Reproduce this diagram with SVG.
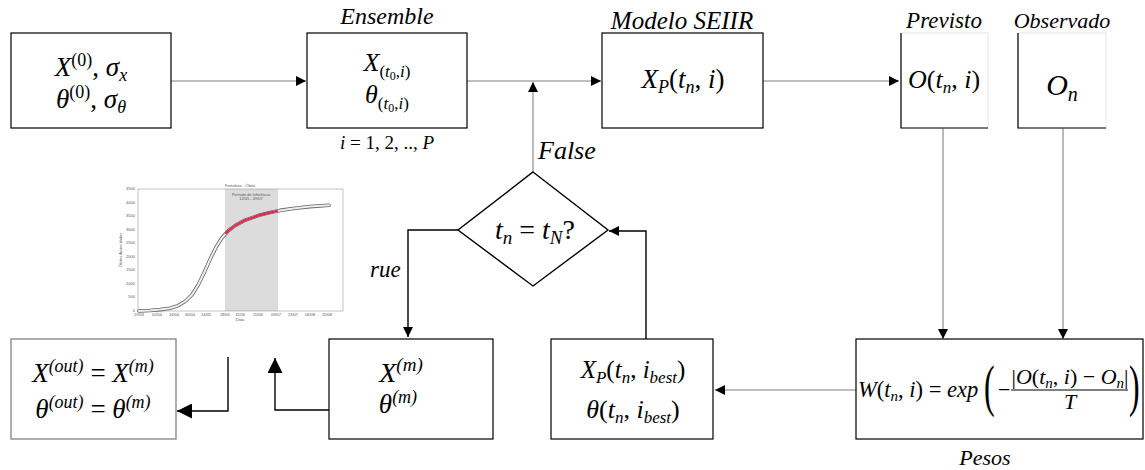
<svg xmlns="http://www.w3.org/2000/svg" width="1145" height="470" viewBox="0 0 1145 470">
<style>
.box{fill:#fff;stroke:#000;stroke-width:1.2}
.m{font-family:"Liberation Serif","DejaVu Serif",serif;fill:#000}
.i{font-style:italic}
.lbl{font-family:"Liberation Serif","DejaVu Serif",serif;font-style:italic;fill:#000}
.g{fill:none;stroke:#aaa;stroke-width:1.6}
.k{fill:none;stroke:#000;stroke-width:1.4}
.t{font-family:"Liberation Sans",Arial,sans-serif;font-size:4px;fill:#555}
</style>
<defs>
<marker id="ah" viewBox="0 0 10 10" markerUnits="userSpaceOnUse" markerWidth="11" markerHeight="10" refX="10" refY="5" orient="auto"><path d="M0,0L10,5L0,10z" fill="#000"/></marker>
<marker id="big" viewBox="0 0 10 10" markerUnits="userSpaceOnUse" markerWidth="15" markerHeight="15" refX="10" refY="5" orient="auto"><path d="M0,0L10,5L0,10z" fill="#000"/></marker>
</defs>
<rect width="1145" height="470" fill="#fff"/>

<g id="connectors">
<path class="g" d="M171,81H306" marker-end="url(#ah)"/>
<path class="g" d="M467,81H601" marker-end="url(#ah)"/>
<path class="g" d="M533,172V82" marker-end="url(#ah)"/>
<path class="g" d="M763,81H899" marker-end="url(#ah)"/>
<path class="g" d="M943,128V339" marker-end="url(#ah)"/>
<path class="g" d="M1063,128V339" marker-end="url(#ah)"/>
<path class="g" d="M856,390H715" marker-end="url(#ah)"/>
<path class="k" d="M646,339V231H609" marker-end="url(#ah)"/>
<path class="k" d="M458,230H408V337" marker-end="url(#ah)"/>
<path class="k" d="M329,410H275V358" marker-end="url(#big)"/>
<path class="k" d="M228,357V411H177" marker-end="url(#big)"/>
<text class="lbl" x="538" y="159" style="font-size:26px">False</text>
<text class="lbl" x="370" y="277" style="font-size:23px">rue</text>
</g>

<g id="init">
<rect class="box" x="11" y="33" width="160" height="95"/>
<text class="m" x="91" y="76" text-anchor="middle" style="font-size:27px"><tspan class="i">X</tspan><tspan font-size="18" dy="-10">(0)</tspan><tspan dy="10">, </tspan><tspan class="i">σ</tspan><tspan class="i" font-size="18" dy="5">x</tspan></text>
<text class="m" x="91" y="108" text-anchor="middle" style="font-size:27px"><tspan class="i">θ</tspan><tspan font-size="18" dy="-10">(0)</tspan><tspan dy="10">, </tspan><tspan class="i">σ</tspan><tspan class="i" font-size="18" dy="5">θ</tspan></text>
</g>

<g id="ensemble">
<rect class="box" x="307" y="33" width="160" height="95"/>
<text class="lbl" x="387" y="24" text-anchor="middle" style="font-size:24px">Ensemble</text>
<text class="m" x="387" y="71" text-anchor="middle" style="font-size:26px"><tspan class="i">X</tspan><tspan font-size="17" dy="6">(</tspan><tspan class="i" font-size="17">t</tspan><tspan font-size="12" dy="3">0</tspan><tspan font-size="17" dy="-3">,</tspan><tspan class="i" font-size="17">i</tspan><tspan font-size="17">)</tspan></text>
<text class="m" x="387" y="103" text-anchor="middle" style="font-size:26px"><tspan class="i">θ</tspan><tspan font-size="17" dy="6">(</tspan><tspan class="i" font-size="17">t</tspan><tspan font-size="12" dy="3">0</tspan><tspan font-size="17" dy="-3">,</tspan><tspan class="i" font-size="17">i</tspan><tspan font-size="17">)</tspan></text>
<text class="m" x="387" y="149" text-anchor="middle" style="font-size:19px"><tspan class="i">i</tspan> = 1, 2, .., <tspan class="i">P</tspan></text>
</g>

<g id="modelo">
<rect class="box" x="602" y="33" width="161" height="95"/>
<text class="lbl" x="682" y="29" text-anchor="middle" style="font-size:25px">Modelo SEIIR</text>
<text class="m" x="683" y="88" text-anchor="middle" style="font-size:27px"><tspan class="i">X</tspan><tspan class="i" font-size="18" dy="5">P</tspan><tspan dy="-5">(</tspan><tspan class="i">t</tspan><tspan class="i" font-size="18" dy="5">n</tspan><tspan dy="-5">, </tspan><tspan class="i">i</tspan>)</text>
</g>

<g id="previsto">
<rect x="901" y="33" width="87" height="95" fill="#fff" stroke="#e4e4e4" stroke-width="1"/>
<path d="M901,33V128H988" fill="none" stroke="#000" stroke-width="1.2"/>
<text class="lbl" x="944" y="28" text-anchor="middle" style="font-size:23px">Previsto</text>
<text class="m" x="944" y="88" text-anchor="middle" style="font-size:26px"><tspan class="i">O</tspan>(<tspan class="i">t</tspan><tspan class="i" font-size="17" dy="5">n</tspan><tspan dy="-5">, </tspan><tspan class="i">i</tspan>)</text>
</g>

<g id="observado">
<rect x="1018" y="33" width="88" height="95" fill="#fff" stroke="#e4e4e4" stroke-width="1"/>
<path d="M1018,33V128H1106" fill="none" stroke="#000" stroke-width="1.2"/>
<text class="lbl" x="1062" y="28" text-anchor="middle" style="font-size:22px">Observado</text>
<text class="m" x="1062" y="95" text-anchor="middle" style="font-size:30px"><tspan class="i">O</tspan><tspan class="i" font-size="20" dy="6">n</tspan></text>
</g>

<g id="pesos">
<rect class="box" x="856" y="339" width="287" height="100" stroke-width="1.6"/>
<text class="m" x="858" y="397" style="font-size:22.5px"><tspan class="i">W</tspan>(<tspan class="i">t</tspan><tspan class="i" font-size="15" dy="4">n</tspan><tspan dy="-4">, </tspan><tspan class="i">i</tspan>) = <tspan class="i">exp</tspan></text>
<text class="m" x="0" y="0" style="font-size:58px" transform="translate(984,405) scale(0.55,1)">(</text>
<text class="m" x="998" y="397" style="font-size:22px">−</text>
<text class="m" x="1070" y="384" text-anchor="middle" style="font-size:22px">|<tspan class="i">O</tspan>(<tspan class="i">t</tspan><tspan class="i" font-size="15" dy="4">n</tspan><tspan dy="-4">, </tspan><tspan class="i">i</tspan>) − <tspan class="i">O</tspan><tspan class="i" font-size="15" dy="4">n</tspan><tspan dy="-4">|</tspan></text>
<path d="M1011,390H1128" stroke="#000" stroke-width="1"/>
<text class="m i" x="1070" y="409" text-anchor="middle" style="font-size:22px">T</text>
<text class="m" x="0" y="0" style="font-size:58px" transform="translate(1129,405) scale(0.55,1)">)</text>
<text class="lbl" x="985" y="465" text-anchor="middle" style="font-size:22px">Pesos</text>
</g>

<g id="best">
<rect class="box" x="551" y="339" width="162" height="100"/>
<text class="m" x="633" y="378" text-anchor="middle" style="font-size:25px"><tspan class="i">X</tspan><tspan class="i" font-size="17" dy="5">P</tspan><tspan dy="-5">(</tspan><tspan class="i">t</tspan><tspan class="i" font-size="17" dy="5">n</tspan><tspan dy="-5">, </tspan><tspan class="i">i</tspan><tspan class="i" font-size="17" dy="5">best</tspan><tspan dy="-5">)</tspan></text>
<text class="m" x="633" y="418" text-anchor="middle" style="font-size:26px"><tspan class="i">θ</tspan>(<tspan class="i">t</tspan><tspan class="i" font-size="17" dy="5">n</tspan><tspan dy="-5">, </tspan><tspan class="i">i</tspan><tspan class="i" font-size="17" dy="5">best</tspan><tspan dy="-5">)</tspan></text>
</g>

<g id="decision">
<path d="M533,172L608,230L533,286L458,230Z" fill="#fff" stroke="#000" stroke-width="1.4"/>
<text class="m" x="535" y="239" text-anchor="middle" style="font-size:28px"><tspan class="i">t</tspan><tspan class="i" font-size="19" dy="5">n</tspan><tspan dy="-5"> = </tspan><tspan class="i">t</tspan><tspan class="i" font-size="19" dy="5">N</tspan><tspan dy="-5">?</tspan></text>
</g>

<g id="xm">
<rect class="box" x="329" y="339" width="164" height="100"/>
<text class="m" x="401" y="382" text-anchor="middle" style="font-size:28px"><tspan class="i">X</tspan><tspan class="i" font-size="19" dy="-11">(m)</tspan></text>
<text class="m" x="398" y="413" text-anchor="middle" style="font-size:27px"><tspan class="i">θ</tspan><tspan class="i" font-size="18" dy="-10">(m)</tspan></text>
</g>

<g id="out">
<rect x="11" y="339" width="165" height="100" fill="#fff" stroke="#777" stroke-width="1.2"/>
<text class="m" x="93" y="382" text-anchor="middle" style="font-size:27px"><tspan class="i">X</tspan><tspan class="i" font-size="18" dy="-10">(out)</tspan><tspan dy="10"> = </tspan><tspan class="i">X</tspan><tspan class="i" font-size="18" dy="-10">(m)</tspan></text>
<text class="m" x="93" y="418" text-anchor="middle" style="font-size:27px"><tspan class="i">θ</tspan><tspan class="i" font-size="18" dy="-10">(out)</tspan><tspan dy="10"> = </tspan><tspan class="i">θ</tspan><tspan class="i" font-size="18" dy="-10">(m)</tspan></text>
</g>

<g id="chart">
<rect x="225" y="189" width="53" height="122" fill="#dcdcdc"/>
<rect x="138" y="189" width="205" height="122" fill="none" stroke="#999" stroke-width="0.6"/>
<text class="t" x="240" y="187" text-anchor="middle">Fortaleza - Óbito</text>
<text class="t" x="251" y="196" text-anchor="middle">Período de Inferência</text>
<text class="t" x="251" y="200" text-anchor="middle" font-size="3">12/05 - 09/07</text>
<g class="t" text-anchor="end">
<text x="135" y="190">4500</text><text x="135" y="204">4000</text><text x="135" y="217">3500</text><text x="135" y="231">3000</text><text x="135" y="244">2500</text><text x="135" y="258">2000</text><text x="135" y="271">1500</text><text x="135" y="285">1000</text><text x="135" y="298">500</text><text x="135" y="312">0</text>
</g>
<g class="t" text-anchor="middle">
<text x="139" y="316">19/03</text><text x="157" y="316">02/04</text><text x="174" y="316">16/04</text><text x="190" y="316">30/04</text><text x="206" y="316">14/05</text><text x="225" y="316">28/05</text><text x="240" y="316">11/06</text><text x="258" y="316">25/06</text><text x="276" y="316">09/07</text><text x="293" y="316">23/07</text><text x="310" y="316">06/08</text><text x="327" y="316">20/08</text>
<text x="240" y="321">Data</text>
</g>
<text class="t" x="0" y="0" text-anchor="middle" transform="translate(122,250) rotate(-90)">Óbitos Acumulados</text>
<path d="M139,311L150,310.5L160,309.6L170,308.3L178,305.6L185,301.5L192,294.7L198,285.2L204,273L210,259.5L216,247.3L222,237.8L228,231L235,225.6L245,220.2L258,215.6L270,212.6L280,210.4L293,208.5L310,206.6L329,205.3" fill="none" stroke="#666" stroke-width="3.6" stroke-linejoin="round" stroke-linecap="round"/>
<path d="M139,311L150,310.5L160,309.6L170,308.3L178,305.6L185,301.5L192,294.7L198,285.2L204,273L210,259.5L216,247.3L222,237.8L228,231L235,225.6L245,220.2L258,215.6L270,212.6L280,210.4L293,208.5L310,206.6L329,205.3" fill="none" stroke="#eee" stroke-width="2" stroke-linejoin="round" stroke-linecap="round"/>
<path d="M226,233L228,231L235,225.6L245,220.2L258,215.6L270,212.6L277,211" fill="none" stroke="#e8254a" stroke-width="2.2" stroke-linecap="round"/>
</g>
</svg>
